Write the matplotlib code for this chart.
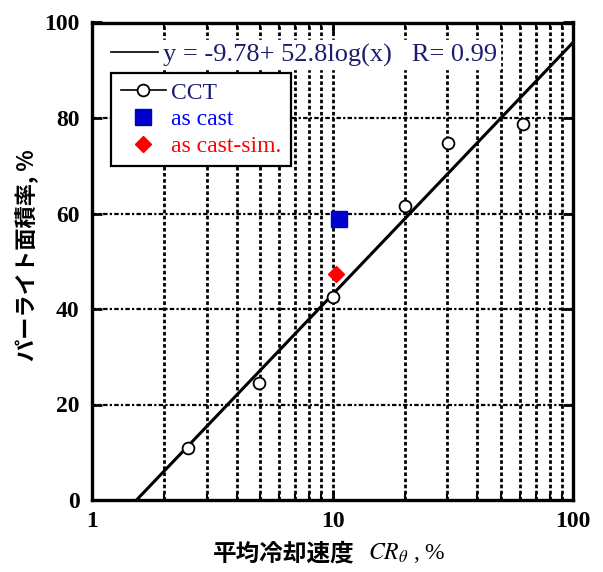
import numpy as np
import matplotlib
matplotlib.use("Agg")
import matplotlib.pyplot as plt
from matplotlib.lines import Line2D
from matplotlib.ticker import LogLocator, NullFormatter, FixedLocator

# measured data
cct_rate = [2.5, 4.95, 10.05, 20.0, 30.2, 62.0]
cct_area = [10.9, 24.5, 42.5, 61.6, 74.8, 78.7]
ascast_rate = [10.6]
ascast_area = [58.8]
sim_rate = [10.35]
sim_area = [47.4]

# regression y = a + b*log10(x)
fit_a, fit_b, fit_r = -9.78, 52.8, 0.99
x_ticks = [1, 10, 100]
y_ticks = [0, 20, 40, 60, 80, 100]

serif = "Liberation Serif"
jp = ["Noto Sans CJK JP", "DejaVu Sans"]
navy = "#1c1c6e"

fig = plt.figure(figsize=(6.03, 5.72), dpi=100)
ax = fig.add_axes([92 / 603, 72 / 572, 481 / 603, 477.5 / 572])

ax.set_xscale("log")
ax.set_xlim(1, 100)
ax.set_ylim(0, 100)

# grid: dotted verticals on every decade step, dash-dot horizontals
grid_x = [v * d for d in (1, 10) for v in range(2, 10)] + [10]
for gx in grid_x:
    ax.axvline(gx, color="black", lw=2.0, ls=(0, (1.3, 0.9)), zorder=1)
for gy in y_ticks[1:-1]:
    ax.axhline(gy, color="black", lw=1.6, ls=(0, (2.0, 1.0, 1.0, 1.0)), zorder=1)

# fit line from zero crossing to right edge
x0 = 10 ** (-fit_a / fit_b)
xf = np.logspace(np.log10(x0), 2, 100)
fit_line, = ax.plot(xf, fit_a + fit_b * np.log10(xf), color="black", lw=2.2, zorder=3)

ax.plot(cct_rate, cct_area, ls="none", marker="o", ms=8.5, mfc="white",
        mec="black", mew=1.3, zorder=5)
ax.plot(ascast_rate, ascast_area, ls="none", marker="s", ms=11,
        color="#0000cc", zorder=5)
ax.plot(sim_rate, sim_area, ls="none", marker="D", ms=8,
        color="#ff0000", zorder=5)

# ticks
ax.xaxis.set_major_locator(FixedLocator(x_ticks))
ax.xaxis.set_minor_locator(LogLocator(base=10, subs=range(2, 10)))
ax.xaxis.set_minor_formatter(NullFormatter())
ax.set_xticklabels([str(v) for v in x_ticks])
ax.yaxis.set_major_locator(FixedLocator(y_ticks))
ax.tick_params(which="major", direction="in", length=7, width=2,
               top=True, right=True, labelsize=17)
ax.tick_params(which="minor", direction="in", length=4, width=1.5,
               top=True, right=True)
ax.tick_params(axis="x", pad=8)
ax.tick_params(axis="y", pad=9)
for lab in ax.get_xticklabels() + ax.get_yticklabels():
    lab.set_fontfamily(serif)
    lab.set_fontweight("bold")
for sp in ax.spines.values():
    sp.set_linewidth(2.4)

# equation legend
eq_leg = ax.legend([fit_line], [f"y = {fit_a}+ {fit_b}log(x)   R= {fit_r}"],
                   loc="upper left", bbox_to_anchor=(0.035, 0.963),
                   frameon=True, fancybox=False, framealpha=1,
                   edgecolor="white", facecolor="white",
                   prop={"family": serif, "size": 19}, labelcolor=navy,
                   handlelength=1.75, handletextpad=0.2, borderpad=0.1,
                   borderaxespad=0)
eq_leg.get_lines()[0].set_linewidth(1.2)
ax.add_artist(eq_leg)

# marker legend
h_cct = Line2D([], [], color="black", lw=1.2, marker="o", ms=8.5,
               mfc="white", mec="black", mew=1.3)
h_cast = Line2D([], [], ls="none", marker="s", ms=11, color="#0000cc")
h_sim = Line2D([], [], ls="none", marker="D", ms=8, color="#ff0000")
leg = ax.legend([h_cct, h_cast, h_sim], ["CCT", "as cast", "as cast-sim."],
                loc="upper left", bbox_to_anchor=(0.04, 0.895),
                frameon=True, fancybox=False, framealpha=1,
                edgecolor="black", facecolor="white",
                prop={"family": serif, "size": 17},
                labelcolor=[navy, "#0000ff", "#ff0000"],
                handlelength=1.9, handletextpad=0.25, borderpad=0.4,
                labelspacing=0.22, borderaxespad=0)
leg.get_frame().set_linewidth(1.6)
leg.set_zorder(6)

# axis titles
fig.text(213 / 603, 1 - 553 / 572, "平均冷却速度", family=jp, fontsize=17,
         fontweight="bold", va="center", ha="left")
fig.text(368 / 603, 1 - 553 / 572, r"$CR_{\theta}$ , %", family=serif,
         fontsize=17, va="center", ha="left", math_fontfamily="stix")
fig.text(27 / 603, 1 - 255 / 572, "パーライト面積率, %", family=jp, fontsize=16,
         fontweight="bold", rotation=90, va="center", ha="center")

fig.savefig("out.png", dpi=100)
